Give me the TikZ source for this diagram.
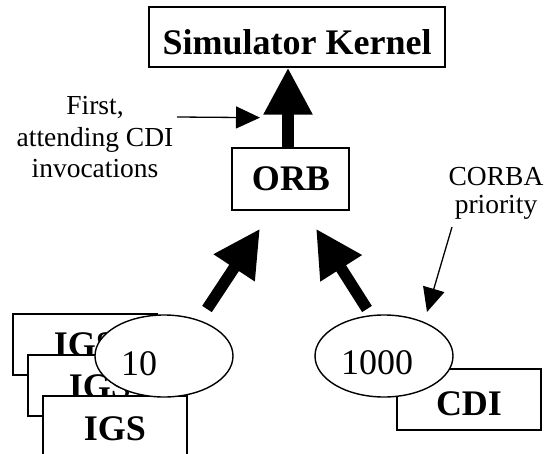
\documentclass[tikz,border=0pt]{standalone}
\usepackage{fontspec}
\setmainfont{Liberation Serif}
\usetikzlibrary{arrows.meta,shapes.geometric}
\begin{document}
\begin{tikzpicture}[x=1pt,y=-1pt,
  box/.style={draw, line width=1.3pt, fill=white, inner sep=0pt},
  oval/.style={draw, ellipse, line width=1.4pt, fill=white, inner sep=0pt, minimum width=138pt, minimum height=82pt},
  boldtxt/.style={font=\fontsize{36}{40}\selectfont\bfseries, inner sep=0pt, anchor=base},
  numtxt/.style={font=\fontsize{36}{40}\selectfont, inner sep=0pt, anchor=base},
  note/.style={font=\fontsize{27.5}{31.5}\selectfont, inner sep=0pt, anchor=base, align=center},
  bigarrow/.style={line width=11.5pt, -{Triangle[length=47pt,width=46pt]}},
  thinarrow/.style={line width=1.3pt, -{Triangle[length=24pt,width=22pt]}}]
\useasboundingbox (0,0) rectangle (545,454);
\clip (0,0) rectangle (545,454);
% kernel
\node[box, minimum width=296pt, minimum height=60pt] (kernel) at (297,37) {};
\node[boldtxt] (kernelT) at (297,55) {Simulator Kernel};
% ORB
\node[box, minimum width=117pt, minimum height=62pt] (orb) at (290.5,179) {};
\node[boldtxt] (orbT) at (291,191) {ORB};
% IGS stack
\node[box, minimum width=144pt, minimum height=61pt] (igs1) at (85,344.5) {};
\node[boldtxt] (igs1T) at (85,356) {IGS};
\node[box, minimum width=144pt, minimum height=61pt] (igs2) at (100,385.5) {};
\node[boldtxt] (igs2T) at (100,398) {IGS};
\node[box, minimum width=144pt, minimum height=61pt] (igs3) at (115,426.5) {};
\node[boldtxt] (igs3T) at (115,440) {IGS};
\node[oval] (e10) at (164,356) {};
\node[numtxt] (e10T) at (139,375) {10};
% CDI
\node[box, minimum width=144pt, minimum height=61pt] (cdi) at (469,399.5) {};
\node[boldtxt] (cdiT) at (469,415) {CDI};
\node[oval] (e1000) at (384,356) {};
\node[numtxt] (e1000T) at (377,374) {1000};
% arrows
\coordinate (kbot) at ([xshift=-9pt]kernel.south);
\draw[bigarrow] (orb.north -| kbot) -- (kbot);
\draw[bigarrow] ([shift={(43,-47)}]e10.center) -- ([shift={(-30.5,18)}]orb.south);
\draw[bigarrow] ([shift={(-17,-47)}]e1000.center) -- ([shift={(25.5,18)}]orb.south);
% notes
\node[note] (first) at (95,178) {First,\\attending CDI\\invocations};
\coordinate (firstS) at (177,117);
\draw[thinarrow] (firstS) -- ([shift={(-28,50)}]kbot);
\node[note, font=\fontsize{27.5}{27.5}\selectfont] (corba) at (496,213) {CORBA\\priority};
\coordinate (corbaS) at (452,227);
\draw[thinarrow] (corbaS) -- ([shift={(43,-44)}]e1000.center);
\end{tikzpicture}
\end{document}
